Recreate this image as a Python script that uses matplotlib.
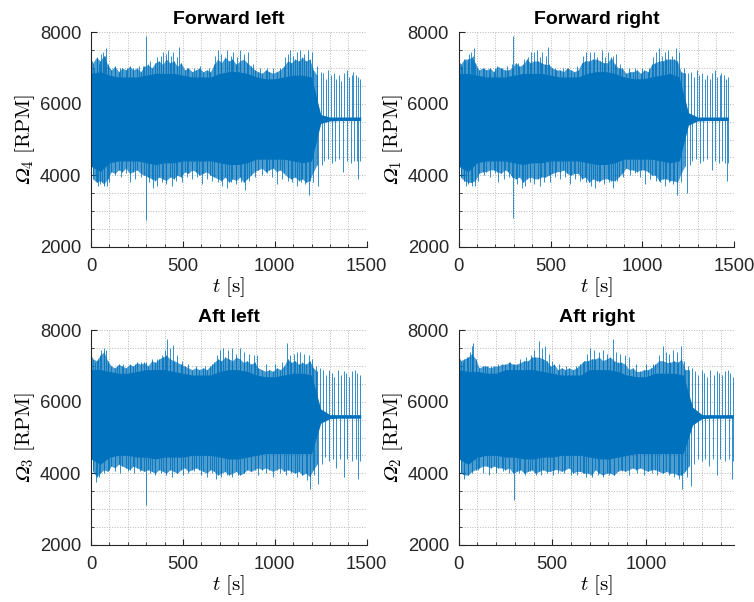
import matplotlib
matplotlib.use('Agg')
import matplotlib.pyplot as plt
from matplotlib.ticker import MultipleLocator

plt.rcParams['font.family'] = ['Liberation Sans', 'DejaVu Sans']
plt.rcParams['mathtext.fontset'] = 'cm'

# ---- data ----
titles = ['Forward left', 'Forward right', 'Aft left', 'Aft right']
motor_ids = ['4', '1', '3', '2']
x_limits = [1500, 1500, 1500, 1473]
hover_rpm = 5580

# dense core of the signal, sampled every 50 s
t_env = [0, 50, 100, 150, 200, 250, 300, 350, 400, 450, 500, 550, 600, 650, 700,
         750, 800, 850, 900, 950, 1000, 1050, 1100, 1150, 1200, 1250, 1300, 1350,
         1400, 1450, 1468]

band_hi_fl = [6850, 6900, 6800, 6750, 6750, 6750, 6800, 6850, 6850, 6850, 6800, 6750, 6750, 6750, 6850,
              6900, 6900, 6850, 6750, 6700, 6700, 6750, 6800, 6800, 6750, 5700, 5630, 5630, 5630, 5630, 5630]
band_lo_fl = [4250, 4100, 4350, 4400, 4400, 4400, 4350, 4300, 4350, 4350, 4400, 4400, 4400, 4400, 4350,
              4300, 4300, 4350, 4450, 4450, 4450, 4450, 4400, 4350, 4400, 5450, 5520, 5530, 5530, 5530, 5530]

band_hi_fr = [6850, 6850, 6800, 6750, 6750, 6750, 6800, 6850, 6850, 6850, 6800, 6750, 6750, 6750, 6850,
              6900, 6900, 6850, 6750, 6700, 6700, 6750, 6800, 6850, 6750, 5750, 5630, 5630, 5630, 5630, 5630]
band_lo_fr = [4250, 4100, 4350, 4400, 4400, 4400, 4350, 4300, 4350, 4350, 4400, 4400, 4400, 4400, 4350,
              4300, 4300, 4350, 4450, 4450, 4450, 4450, 4400, 4350, 4400, 5400, 5520, 5530, 5530, 5530, 5530]

band_hi_al = [6900, 6900, 6850, 6800, 6800, 6850, 6900, 6900, 6900, 6850, 6800, 6750, 6750, 6750, 6850,
              6900, 6900, 6850, 6750, 6700, 6700, 6750, 6800, 6800, 6750, 5800, 5640, 5640, 5640, 5640, 5640]
band_lo_al = [4400, 4250, 4450, 4500, 4500, 4450, 4450, 4400, 4450, 4450, 4450, 4500, 4500, 4500, 4450,
              4400, 4400, 4450, 4500, 4550, 4550, 4550, 4550, 4550, 4550, 5400, 5530, 5540, 5540, 5540, 5540]

band_hi_ar = [6900, 6850, 6850, 6800, 6800, 6900, 6900, 6900, 6900, 6850, 6800, 6750, 6750, 6750, 6900,
              6900, 6900, 6850, 6750, 6700, 6700, 6800, 6800, 6800, 6750, 5850, 5640, 5640, 5640, 5640, 5640]
band_lo_ar = [4400, 4250, 4450, 4500, 4500, 4450, 4450, 4400, 4400, 4450, 4450, 4500, 4500, 4500, 4450,
              4400, 4400, 4450, 4500, 4550, 4550, 4550, 4550, 4550, 4550, 5350, 5530, 5540, 5540, 5540, 5540]

# fringe of the dense band, every 20 s until the hover phase
t_edge = [10, 30, 50, 70, 90, 110, 130, 150, 170, 190, 210, 230, 250, 270, 290, 310, 330, 350, 370, 390,
          410, 430, 450, 470, 490, 510, 530, 550, 570, 590, 610, 630, 650, 670, 690, 710, 730, 750, 770,
          790, 810, 830, 850, 870, 890, 910, 930, 950, 970, 990, 1010, 1030, 1050, 1070, 1090, 1110,
          1130, 1150, 1170, 1190, 1210, 1230]

edge_up_fl = [7150, 7300, 7200, 7350, 7100, 6950, 7050, 6900, 7000, 6950, 7050, 6950, 7000, 6900, 7050,
              7100, 7000, 7150, 7200, 7100, 7250, 7150, 7200, 7050, 7150, 6950, 7000, 6900, 6950, 7000,
              6900, 6950, 6900, 7100, 7250, 7150, 7300, 7200, 7250, 7100, 7200, 7250, 7150, 7050, 6950,
              6900, 6850, 6950, 6900, 6850, 6900, 6950, 7050, 7200, 7150, 7250, 7200, 7300, 7200, 7250,
              6950, 6800]
edge_dn_fl = [3900, 3800, 3850, 3750, 3900, 4100, 4050, 4150, 4100, 4200, 4050, 4100, 4150, 4050, 4000,
              3950, 3900, 3850, 3950, 3900, 3850, 3950, 3900, 4000, 3950, 4100, 4050, 4150, 4100, 4000,
              4050, 4100, 4000, 3950, 3900, 3850, 3950, 3800, 3900, 3850, 3950, 3800, 3900, 4000, 4100,
              4150, 4200, 4100, 4150, 4200, 4100, 4150, 4050, 3950, 3900, 3950, 3850, 3900, 3800, 3850,
              4100, 4300]

edge_up_fr = [7100, 7250, 7250, 7300, 7150, 6950, 7000, 6950, 7000, 6900, 7050, 7000, 6950, 6950, 7000,
              7150, 7050, 7100, 7250, 7150, 7200, 7200, 7150, 7100, 7100, 7000, 6950, 6950, 6900, 7000,
              6950, 6900, 6950, 7150, 7200, 7200, 7250, 7250, 7200, 7150, 7150, 7300, 7100, 7000, 7000,
              6850, 6900, 6900, 6950, 6850, 6950, 6900, 7100, 7150, 7200, 7200, 7250, 7250, 7250, 7200,
              6900, 6850]
edge_dn_fr = [3950, 3850, 3800, 3800, 3850, 4050, 4100, 4100, 4150, 4150, 4100, 4050, 4150, 4100, 3950,
              3900, 3950, 3800, 3900, 3950, 3900, 3900, 3950, 3950, 4000, 4050, 4100, 4100, 4150, 4050,
              4000, 4050, 4050, 3900, 3950, 3800, 3900, 3850, 3850, 3900, 3900, 3850, 3850, 3950, 4050,
              4200, 4150, 4150, 4100, 4150, 4150, 4100, 4000, 4000, 3850, 3900, 3900, 3850, 3850, 3800,
              4050, 4250]

edge_up_al = [7200, 7150, 7300, 7400, 7150, 7000, 6950, 7050, 7000, 6950, 7050, 7000, 7100, 7050, 7100,
              7000, 7150, 7100, 7200, 7250, 7300, 7200, 7150, 7100, 7050, 7000, 6950, 6900, 6950, 6900,
              6950, 6900, 7000, 7100, 7200, 7150, 7250, 7200, 7150, 7250, 7200, 7100, 7150, 7050, 7100,
              6950, 6900, 6850, 6900, 6850, 6950, 6900, 7000, 7200, 7100, 7150, 7050, 7100, 7050, 7150,
              6950, 6850]
edge_dn_al = [4050, 3900, 4000, 4100, 4050, 4200, 4150, 4250, 4200, 4150, 4100, 4200, 4150, 4100, 4050,
              4100, 4050, 4000, 4100, 4050, 4000, 4100, 4050, 4000, 4100, 4150, 4050, 4100, 4150, 4100,
              4050, 4000, 4100, 4050, 3950, 4000, 4050, 3950, 4000, 4050, 3950, 4000, 4100, 4050, 4100,
              4150, 4100, 4150, 4100, 4050, 4100, 4150, 4050, 4100, 4050, 4000, 4050, 3950, 4000, 3900,
              4100, 4250]

edge_up_ar = [7150, 7200, 7250, 7350, 7200, 6950, 7000, 7000, 6950, 7000, 7000, 7050, 7050, 7100, 7050,
              7050, 7100, 7150, 7150, 7250, 7250, 7250, 7200, 7150, 7000, 7050, 6900, 6950, 6900, 6950,
              6900, 6950, 7050, 7150, 7150, 7200, 7200, 7250, 7150, 7200, 7250, 7150, 7100, 7100, 7050,
              6900, 6950, 6850, 6850, 6900, 6900, 6950, 7050, 7150, 7150, 7100, 7100, 7150, 7100, 7200,
              6900, 6900]
edge_dn_ar = [4000, 3950, 3950, 4050, 4100, 4150, 4200, 4200, 4150, 4200, 4150, 4150, 4100, 4150, 4000,
              4050, 4100, 4000, 4050, 4100, 4000, 4050, 4100, 4050, 4050, 4100, 4100, 4050, 4100, 4150,
              4000, 4050, 4050, 4000, 4000, 3950, 4100, 4000, 3950, 4000, 4000, 3950, 4050, 4100, 4050,
              4100, 4150, 4100, 4150, 4100, 4050, 4100, 4100, 4050, 4000, 4050, 4000, 4000, 3950, 3950,
              4050, 4200]

# individual spikes leaving the band (time [s], rpm)
spike_up_fl = [(5, 7200), (18, 7000), (31, 7250), (45, 7100), (55, 7400), (65, 7450), (75, 7350), (82, 7550),
               (95, 7050), (130, 7000), (160, 7000), (194, 7000), (230, 7000), (260, 7050), (285, 7050),
               (297, 7900), (320, 7200), (357, 7300), (380, 7350), (394, 7450), (410, 7400), (421, 7500),
               (435, 7350), (448, 7450), (470, 7300), (481, 7600), (520, 7000), (560, 7000), (593, 7050),
               (640, 7000), (675, 7350), (693, 7500), (710, 7400), (738, 7500), (760, 7350), (775, 7450),
               (795, 7300), (811, 7500), (835, 7400), (856, 7450), (883, 7100), (920, 7000), (956, 7000),
               (990, 7000), (1030, 7000), (1055, 7300), (1070, 7400), (1083, 7500), (1100, 7350),
               (1120, 7450), (1137, 7500), (1160, 7400), (1183, 7500), (1200, 7450), (1228, 7050),
               (1250, 6900), (1265, 6850), (1280, 6700), (1291, 6950), (1305, 6800), (1320, 6850),
               (1335, 6700), (1350, 6800), (1362, 6650), (1378, 6850), (1391, 6950), (1405, 6750),
               (1418, 6800), (1427, 6900), (1440, 6800), (1455, 6750), (1464, 6700)]
spike_dn_fl = [(10, 4000), (25, 3850), (38, 3700), (49, 3750), (62, 3800), (72, 3700), (85, 3700), (100, 3800),
               (130, 4000), (165, 3950), (190, 4050), (212, 3800), (240, 3900), (270, 3950), (297, 2750),
               (315, 3800), (339, 3650), (360, 3700), (385, 3800), (410, 3750), (439, 3700), (460, 3850),
               (493, 3800), (520, 3950), (550, 3900), (575, 3950), (602, 3750), (630, 3900), (660, 3850),
               (690, 3800), (715, 3700), (738, 3650), (760, 3800), (790, 3750), (815, 3800), (838, 3600),
               (860, 3850), (890, 3950), (930, 4000), (960, 4050), (985, 3950), (1010, 3750), (1040, 3900),
               (1070, 3850), (1095, 3800), (1119, 3700), (1145, 3800), (1165, 3750), (1188, 3450),
               (1210, 3800), (1237, 3700), (1255, 4300), (1270, 4400), (1291, 4450), (1310, 4350),
               (1330, 4400), (1350, 4450), (1373, 4100), (1395, 4400), (1415, 4350), (1430, 4400),
               (1445, 4400), (1455, 3900), (1464, 4400)]

spike_up_fr = [(5, 7150), (20, 7050), (33, 7200), (48, 7150), (58, 7400), (68, 7450), (78, 7350), (85, 7550),
               (100, 7000), (135, 7000), (165, 6950), (200, 7000), (235, 7000), (265, 7050), (288, 7100),
               (297, 7900), (325, 7150), (355, 7250), (375, 7300), (392, 7450), (408, 7450), (425, 7500),
               (440, 7300), (455, 7450), (475, 7350), (484, 7600), (525, 7000), (565, 7000), (595, 7000),
               (645, 7050), (678, 7350), (695, 7450), (712, 7450), (735, 7450), (755, 7300), (778, 7500),
               (798, 7300), (815, 7450), (838, 7350), (858, 7400), (880, 7100), (925, 7000), (960, 7000),
               (995, 7000), (1035, 7000), (1058, 7300), (1072, 7450), (1088, 7550), (1105, 7350),
               (1125, 7450), (1140, 7500), (1162, 7350), (1180, 7550), (1198, 7450), (1225, 7000),
               (1248, 6850), (1262, 6900), (1282, 6750), (1295, 6950), (1308, 6800), (1322, 6850),
               (1338, 6700), (1352, 6800), (1365, 6700), (1380, 6850), (1393, 6950), (1408, 6750),
               (1420, 6800), (1430, 6850), (1442, 6800), (1456, 6700), (1466, 6750)]
spike_dn_fr = [(12, 3950), (27, 3850), (40, 3700), (52, 3750), (65, 3800), (75, 3700), (88, 3700), (105, 3850),
               (135, 4000), (168, 3950), (195, 4050), (215, 3800), (245, 3900), (272, 3950), (297, 2800),
               (318, 3750), (342, 3650), (362, 3700), (388, 3800), (412, 3750), (441, 3700), (463, 3800),
               (495, 3800), (523, 3950), (552, 3900), (578, 3950), (605, 3750), (633, 3900), (662, 3850),
               (692, 3800), (718, 3700), (740, 3650), (763, 3800), (792, 3750), (818, 3800), (840, 3650),
               (862, 3850), (893, 3950), (932, 4000), (962, 4050), (988, 3950), (1012, 3750), (1042, 3900),
               (1072, 3850), (1098, 3800), (1121, 3700), (1147, 3800), (1168, 3750), (1190, 3450),
               (1212, 3800), (1240, 3500), (1258, 4300), (1272, 4400), (1293, 4450), (1312, 4350),
               (1332, 4400), (1352, 4450), (1376, 4150), (1397, 4400), (1417, 4350), (1432, 4400),
               (1447, 4350), (1458, 3850), (1466, 4350)]

spike_up_al = [(5, 7250), (20, 7100), (40, 7200), (55, 7450), (68, 7500), (80, 7450), (95, 7100), (140, 7000),
               (175, 7050), (210, 7000), (240, 7050), (270, 7100), (297, 7100), (330, 7200), (360, 7200),
               (385, 7300), (400, 7450), (412, 7750), (430, 7500), (448, 7600), (470, 7300), (495, 7150),
               (530, 7050), (570, 7000), (620, 7000), (660, 7050), (685, 7300), (700, 7450), (720, 7500),
               (745, 7450), (770, 7500), (790, 7350), (810, 7500), (835, 7400), (860, 7350), (885, 7300),
               (905, 7300), (950, 7050), (1000, 7050), (1040, 7100), (1065, 7650), (1085, 7300),
               (1105, 7350), (1120, 7400), (1137, 7400), (1160, 7350), (1185, 7300), (1200, 7200),
               (1225, 7000), (1245, 6950), (1262, 6900), (1278, 6750), (1295, 6900), (1310, 6800),
               (1325, 6700), (1342, 6900), (1360, 6750), (1375, 6850), (1390, 6800), (1405, 6700),
               (1420, 6850), (1435, 6900), (1450, 6800), (1464, 6750)]
spike_dn_al = [(12, 4100), (28, 3750), (45, 3900), (70, 4000), (100, 4100), (130, 4050), (160, 4000),
               (200, 4050), (235, 4000), (265, 4050), (297, 3100), (320, 4000), (350, 3950), (380, 4000),
               (410, 3950), (440, 3900), (470, 4000), (500, 3950), (530, 4000), (560, 4050), (600, 3950),
               (630, 3900), (660, 4000), (680, 3850), (710, 3900), (740, 3950), (770, 3900), (800, 3950),
               (830, 4000), (870, 4050), (910, 3950), (950, 4000), (990, 3900), (1030, 4000), (1060, 3950),
               (1090, 4000), (1120, 3900), (1150, 3950), (1175, 3800), (1192, 3550), (1215, 3950),
               (1233, 3700), (1255, 4250), (1275, 4450), (1295, 4350), (1315, 4400), (1335, 4150),
               (1355, 4400), (1375, 3900), (1395, 4400), (1420, 4350), (1440, 4400), (1455, 3850),
               (1464, 4350)]

spike_up_ar = [(5, 7200), (22, 7100), (42, 7250), (58, 7400), (70, 7550), (79, 7650), (95, 7150), (140, 7000),
               (175, 7000), (210, 7050), (245, 7000), (275, 7100), (298, 7050), (330, 7200), (358, 7250),
               (385, 7300), (405, 7450), (428, 7700), (445, 7500), (462, 7550), (480, 7350), (500, 7150),
               (535, 7050), (575, 7000), (625, 7000), (665, 7100), (688, 7350), (700, 7500), (722, 7450),
               (748, 7400), (772, 7450), (795, 7350), (822, 7750), (840, 7400), (862, 7350), (888, 7300),
               (908, 7250), (950, 7050), (1000, 7050), (1040, 7050), (1068, 7300), (1090, 7550),
               (1108, 7400), (1125, 7350), (1145, 7450), (1165, 7400), (1190, 7550), (1205, 7150),
               (1228, 7000), (1248, 6950), (1265, 6850), (1280, 6750), (1298, 6900), (1312, 6800),
               (1328, 6700), (1345, 6900), (1362, 6750), (1378, 6850), (1392, 6800), (1408, 6750),
               (1422, 6850), (1438, 6900), (1452, 6800), (1466, 6700)]
spike_dn_ar = [(12, 4050), (30, 3850), (48, 3950), (72, 4000), (102, 4100), (132, 4000), (162, 3950),
               (202, 4000), (238, 4050), (268, 4000), (298, 3250), (322, 4000), (352, 3950), (382, 4050),
               (412, 3950), (442, 3950), (472, 4000), (502, 3950), (532, 4000), (562, 4000), (602, 3950),
               (632, 3950), (662, 4000), (682, 3900), (712, 3900), (742, 3950), (772, 3900), (802, 3950),
               (832, 3950), (872, 4050), (912, 3950), (952, 4000), (992, 3950), (1032, 4000), (1062, 3950),
               (1092, 4000), (1122, 3950), (1152, 3900), (1178, 3850), (1196, 3550), (1218, 3900),
               (1241, 3650), (1258, 4250), (1278, 4400), (1298, 4350), (1318, 4400), (1338, 4200),
               (1358, 4400), (1378, 3950), (1398, 4400), (1422, 4350), (1442, 4400), (1458, 3850),
               (1468, 4350)]

band_hi = [band_hi_fl, band_hi_fr, band_hi_al, band_hi_ar]
band_lo = [band_lo_fl, band_lo_fr, band_lo_al, band_lo_ar]
edge_up = [edge_up_fl, edge_up_fr, edge_up_al, edge_up_ar]
edge_dn = [edge_dn_fl, edge_dn_fr, edge_dn_al, edge_dn_ar]
spikes_up = [spike_up_fl, spike_up_fr, spike_up_al, spike_up_ar]
spikes_dn = [spike_dn_fl, spike_dn_fr, spike_dn_al, spike_dn_ar]

blue = '#0072BD'
ink = '#262626'

fig, axes = plt.subplots(2, 2, figsize=(7.54, 6.02), dpi=100)
fig.subplots_adjust(left=0.1207, right=0.9739, top=0.9463, bottom=0.0952,
                    wspace=0.334, hspace=0.39)

for i, ax in enumerate(axes.flat):
    # fringe where the lines overlap less, then the solid core
    ax.fill_between(t_edge, edge_dn[i], edge_up[i], color=blue, alpha=0.7, linewidth=0)
    ax.fill_between(t_env, band_lo[i], band_hi[i], color=blue, linewidth=0)
    ax.vlines(t_edge, hover_rpm, edge_up[i], color=blue, linewidth=0.7, alpha=0.8)
    ax.vlines(t_edge, hover_rpm, edge_dn[i], color=blue, linewidth=0.7, alpha=0.8)
    for spikes in (spikes_up[i], spikes_dn[i]):
        ts = [s[0] for s in spikes]
        vs = [s[1] for s in spikes]
        ax.vlines(ts, hover_rpm, vs, color=blue, linewidth=0.7, alpha=0.8)

    ax.set_xlim(0, x_limits[i])
    ax.set_ylim(2000, 8000)
    ax.xaxis.set_major_locator(MultipleLocator(500))
    ax.xaxis.set_minor_locator(MultipleLocator(100))
    ax.yaxis.set_major_locator(MultipleLocator(2000))
    ax.yaxis.set_minor_locator(MultipleLocator(500))
    ax.grid(True, which='both', linestyle=':', color='#b8b8b8', linewidth=0.7)
    ax.set_axisbelow(True)

    for side in ('top', 'right'):
        ax.spines[side].set_visible(False)
    for side in ('left', 'bottom'):
        ax.spines[side].set_color(ink)
        ax.spines[side].set_linewidth(0.8)
    ax.tick_params(which='both', direction='in', colors=ink, labelsize=13.3)
    ax.tick_params(which='major', length=4)
    ax.tick_params(which='minor', length=2.5)
    ax.tick_params(axis='x', which='major', pad=8)
    ax.tick_params(axis='y', which='major', pad=7)

    ax.set_title(titles[i], fontsize=14, fontweight='bold', pad=6)
    ax.set_xlabel(r'$t\ [\mathrm{s}]$', fontsize=15, labelpad=0)
    ax.set_ylabel('$\U0001D6FA_{\\mathit{%s}}\\ [\\mathrm{RPM}]$' % motor_ids[i],
                  fontsize=15, labelpad=2)

fig.savefig('out.png', dpi=100)
